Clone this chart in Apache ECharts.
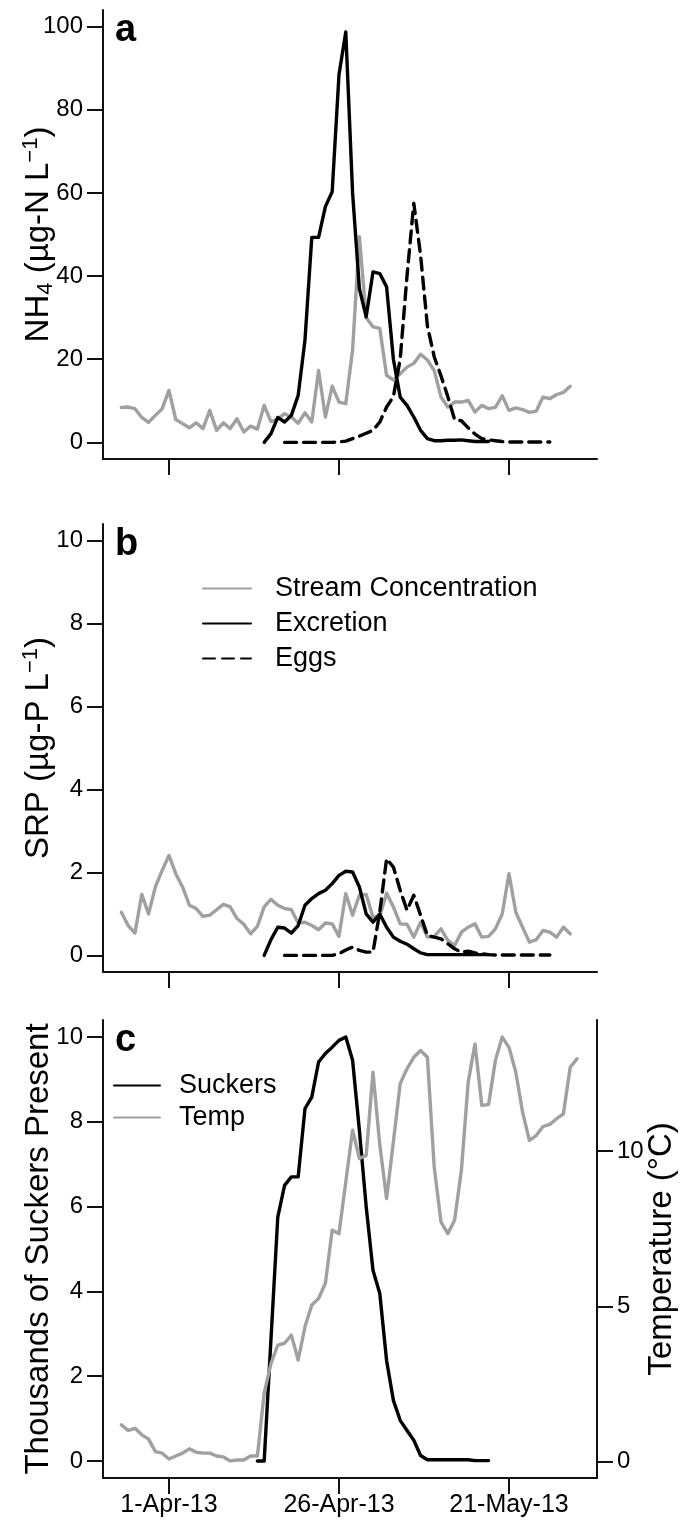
<!DOCTYPE html>
<html><head><meta charset="utf-8">
<script src="https://cdn.jsdelivr.net/npm/echarts@6/dist/echarts.min.js"></script>
<style>html,body{margin:0;padding:0;background:#fff}#c{width:681px;height:1529px}</style>
</head><body><div id="c"></div>
<script>
// ---- data ----
const originDate = '2013-04-01';
const xTickDates = ['2013-04-01', '2013-04-26', '2013-05-21'];
const xTickLabels = ['1-Apr-13', '26-Apr-13', '21-May-13'];
const nh4Ticks = [0, 20, 40, 60, 80, 100];
const srpTicks = [0, 2, 4, 6, 8, 10];
const suckerTicks = [0, 2, 4, 6, 8, 10];
const tempTicks = [0, 5, 10];

const nh4StreamStart = '2013-03-25';
const nh4Stream = [8.4, 8.5, 8.1, 6.0, 4.8, 6.5, 8.1, 12.5, 5.5, 4.5, 3.5, 4.7, 3.3, 7.7, 2.9, 4.7, 3.3, 5.7, 2.5, 3.9, 3.2,
  8.9, 5.0, 5.6, 6.9, 6.1, 4.6, 7.1, 4.9, 17.3, 6.1, 13.5, 9.7, 9.3, 22.2, 49.5, 30.0, 27.8, 27.4, 16.1, 15.0, 16.5,
  18.1, 19.0, 21.2, 19.8, 17.3, 10.9, 8.5, 9.7, 9.7, 10.1, 7.3, 8.9, 8.1, 8.4, 11.2, 7.7, 8.3, 7.9, 7.2, 7.5, 10.9,
  10.5, 11.5, 12.0, 13.5];
const nh4ExcretionStart = '2013-04-15';
const nh4Excretion = [0, 2.1, 6.0, 4.9, 6.5, 11.3, 24.6, 49.3, 49.3, 56.7, 60.3, 88.4, 98.7, 60, 37, 30.2, 41.0, 40.6,
  37.4, 20, 10.9, 8.9, 6.1, 2.9, 0.9, 0.4, 0.4, 0.5, 0.5, 0.6, 0.4, 0.2, 0.2, 0.2];
const nh4EggsStart = '2013-04-18';
const nh4Eggs = [0, 0, 0, 0, 0, 0, 0, 0, 0.1, 0.3, 0.9, 1.5, 2.2, 2.9, 4.9, 8.5, 11.0, 20, 40, 57.5, 45, 28, 20.6,
  16, 11, 5.5, 5.2, 3.5, 2.0, 0.9, 0.6, 0.4, 0.2, 0.1, 0.1, 0.1, 0.1, 0.1, 0.1, 0.1];

const srpStreamStart = '2013-03-25';
const srpStream = [1.04, 0.72, 0.54, 1.47, 1.0, 1.65, 2.05, 2.41, 1.97, 1.65, 1.21, 1.13, 0.94, 0.97, 1.1, 1.23, 1.17,
  0.89, 0.75, 0.52, 0.70, 1.17, 1.35, 1.21, 1.13, 1.10, 0.78, 0.80, 0.72, 0.62, 0.78, 0.76, 0.46, 1.49, 0.97, 1.45,
  1.47, 0.92, 0.95, 1.5, 1.17, 0.76, 0.75, 0.44, 0.8, 0.44, 0.46, 0.64, 0.36, 0.24, 0.56, 0.68, 0.76, 0.44, 0.46,
  0.64, 1.0, 1.97, 1.04, 0.68, 0.32, 0.38, 0.6, 0.56, 0.44, 0.68, 0.52];
const srpExcretionStart = '2013-04-15';
const srpExcretion = [0, 0.38, 0.68, 0.66, 0.54, 0.72, 1.21, 1.37, 1.49, 1.57, 1.73, 1.93, 2.03, 2.01, 1.65, 1.0, 0.8,
  1.0, 0.68, 0.44, 0.34, 0.27, 0.16, 0.06, 0.02, 0.02, 0.02, 0.02, 0.02, 0.02, 0.02, 0.02, 0.02, 0.02];
const srpEggsStart = '2013-04-18';
const srpEggs = [0, 0, 0, 0, 0, 0, 0, 0, 0.04, 0.13, 0.2, 0.12, 0.08, 0.08, 1.05, 2.33, 2.13, 1.57, 1.09, 1.45, 0.97,
  0.48, 0.44, 0.4, 0.28, 0.16, 0.08, 0.1, 0.06, 0.04, 0.02, 0.01, 0.01, 0.01, 0.01, 0.01, 0.01, 0.01, 0.01, 0.01];

const suckersStart = '2013-04-14';
const suckers = [0, 0, null, 5.75, 6.5, 6.7, 6.7, 8.31, 8.58, 9.41, 9.61, 9.76, 9.92, 10.0, 9.45, 7.8, 6.0, 4.5, 3.95,
  2.37, 1.43, 0.96, 0.72, 0.49, 0.13, 0.03, 0.03, 0.03, 0.03, 0.03, 0.03, 0.03, 0.01, 0.01, 0.01];
const tempStart = '2013-03-25';
const temp = [1.18, 1.0, 1.07, 0.86, 0.72, 0.32, 0.27, 0.08, 0.18, 0.27, 0.41, 0.30, 0.27, 0.27, 0.18, 0.15, 0.02, 0.05,
  0.05, 0.18, 0.18, 2.2, 3.16, 3.75, 3.81, 4.07, 3.27, 4.34, 5.04, 5.25, 5.74, 7.45, 7.34, 9.0, 10.67, 9.76, 9.86,
  12.54, 10.2, 8.47, 10.3, 12.17, 12.65, 13.02, 13.24, 13.02, 9.49, 7.72, 7.34, 7.77, 9.38, 12.22, 13.45, 11.47, 11.50,
  12.92, 13.67, 13.34, 12.54, 11.25, 10.34, 10.5, 10.79, 10.86, 11.04, 11.2, 12.7, 12.97];

// ---- helpers ----
const DAY = 86400000;
const dayOf = s => (Date.parse(s + 'T00:00:00Z') - Date.parse(originDate + 'T00:00:00Z')) / DAY;
const pairs = (start, vals) => vals.map((v, i) => [dayOf(start) + i, v]);
const xTickVals = xTickDates.map(dayOf);
const xLabelOf = v => { const i = xTickVals.indexOf(v); return i >= 0 ? xTickLabels[i] : ''; };

const FONT = '"Liberation Sans", Arial, Helvetica, sans-serif';
const AX = '#111';
const GRAY = '#a0a0a0';
const XMIN = -9.7, XMAX = 62.94;

function xAxis(gi, labels) {
  return {
    type: 'value', gridIndex: gi, min: XMIN, max: XMAX,
    axisLine: { show: true, onZero: false, lineStyle: { color: AX, width: 2 } },
    axisTick: { show: true, length: 16, customValues: xTickVals, lineStyle: { color: AX, width: 2 } },
    axisLabel: { show: labels, customValues: xTickVals, formatter: xLabelOf, margin: 15,
      fontSize: 25, fontFamily: FONT, color: '#000' },
    splitLine: { show: false }
  };
}
const richName = {
  sub: { fontSize: 22, fontFamily: FONT, color: '#000', verticalAlign: 'bottom', lineHeight: 12 },
  sup: { fontSize: 22, fontFamily: FONT, color: '#000', verticalAlign: 'top', lineHeight: 12 }
};
function yAxis(gi, min, max, ticks, name, pos, gap) {
  return {
    type: 'value', gridIndex: gi, min: min, max: max, position: pos || 'left',
    axisLine: { show: true, onZero: false, lineStyle: { color: AX, width: 2 } },
    axisTick: { show: true, length: 16, customValues: ticks, lineStyle: { color: AX, width: 2 } },
    axisLabel: { customValues: ticks, margin: 20, fontSize: 24, fontFamily: FONT, color: '#000' },
    splitLine: { show: false },
    name: name, nameLocation: 'middle', nameRotate: 90, nameGap: gap, nameMoveOverlap: false,
    nameTextStyle: { fontSize: 33, fontFamily: FONT, color: '#000', lineHeight: 37, rich: richName }
  };
}
function line(name, xi, yi, data, color, dashed) {
  return {
    type: 'line', name: name, xAxisIndex: xi, yAxisIndex: yi, data: data,
    symbol: 'none', showSymbol: false, connectNulls: true, animation: false,
    lineStyle: { color: color, width: 3.4, type: dashed ? [12, 7] : 'solid', cap: 'round', join: 'round' },
    itemStyle: { color: color }
  };
}

const chart = echarts.init(document.getElementById('c'), null, { renderer: 'canvas' });
chart.setOption({
  animation: false,
  backgroundColor: '#fff',
  grid: [
    { left: 103, top: 10, width: 494, height: 449, outerBoundsMode: 'none' },
    { left: 103, top: 524, width: 494, height: 448, outerBoundsMode: 'none' },
    { left: 103, top: 1020, width: 494, height: 458, outerBoundsMode: 'none' }
  ],
  title: [
    { text: 'a', left: 110, top: 7, textStyle: { fontSize: 38, fontWeight: 'bold', fontFamily: FONT, color: '#000' } },
    { text: 'b', left: 110, top: 521, textStyle: { fontSize: 38, fontWeight: 'bold', fontFamily: FONT, color: '#000' } },
    { text: 'c', left: 110, top: 1017, textStyle: { fontSize: 38, fontWeight: 'bold', fontFamily: FONT, color: '#000' } }
  ],
  legend: [
    { orient: 'vertical', left: 197, top: 570, itemWidth: 48, itemHeight: 14, itemGap: 8,
      data: ['Stream Concentration', 'Excretion', 'Eggs'], itemStyle: { opacity: 0 },
      formatter: n => '{t|' + n + '}',
      textStyle: { fontSize: 27, fontFamily: FONT, color: '#000', rich: { t: { fontSize: 27, fontFamily: FONT, padding: [0, 0, 0, 19] } } } },
    { orient: 'vertical', left: 108, top: 1067, itemWidth: 46, itemHeight: 14, itemGap: 5,
      data: ['Suckers', 'Temp'], itemStyle: { opacity: 0 },
      formatter: n => '{t|' + n + '}',
      textStyle: { fontSize: 27, fontFamily: FONT, color: '#000', rich: { t: { fontSize: 27, fontFamily: FONT, padding: [0, 0, 0, 14] } } } }
  ],
  xAxis: [xAxis(0, false), xAxis(1, false), xAxis(2, true)],
  yAxis: [
    yAxis(0, -4, 104, nh4Ticks, 'NH{sub|4} (µg-N L{sup|−1})', 'left', 46),
    yAxis(1, -0.4, 10.4, srpTicks, 'SRP (µg-P L{sup|−1})', 'left', 46),
    yAxis(2, -0.4, 10.4, suckerTicks, 'Thousands of Suckers Present', 'left', 46),
    yAxis(2, -0.53, 14.22, tempTicks, 'Temperature (°C)', 'right', 46)
  ],
  series: [
    line('Stream Concentration', 0, 0, pairs(nh4StreamStart, nh4Stream), GRAY, false),
    line('Excretion', 0, 0, pairs(nh4ExcretionStart, nh4Excretion), '#000', false),
    line('Eggs', 0, 0, pairs(nh4EggsStart, nh4Eggs), '#000', true),
    line('Stream Concentration', 1, 1, pairs(srpStreamStart, srpStream), GRAY, false),
    line('Excretion', 1, 1, pairs(srpExcretionStart, srpExcretion), '#000', false),
    line('Eggs', 1, 1, pairs(srpEggsStart, srpEggs), '#000', true),
    line('Suckers', 2, 2, pairs(suckersStart, suckers), '#000', false),
    line('Temp', 2, 3, pairs(tempStart, temp), GRAY, false)
  ]
});
</script></body></html>
